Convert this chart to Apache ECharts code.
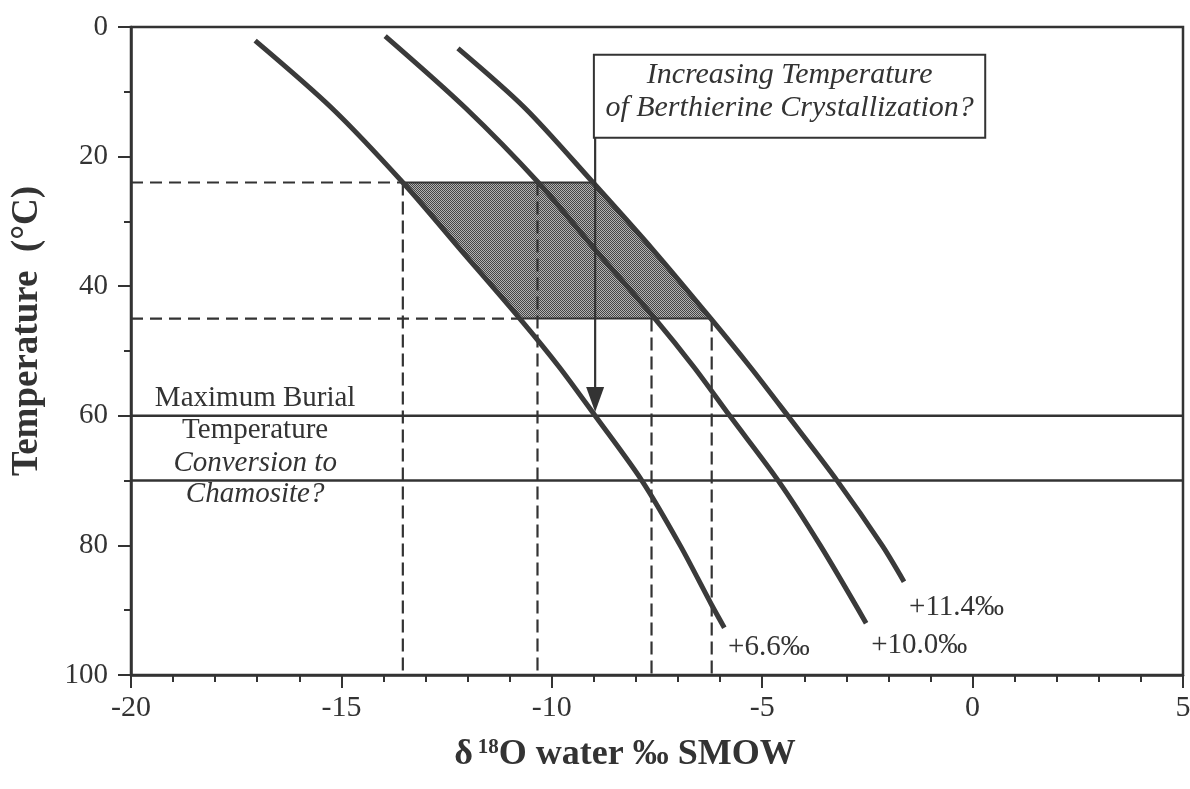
<!DOCTYPE html>
<html>
<head>
<meta charset="utf-8">
<script src="https://cdn.jsdelivr.net/npm/echarts@6/dist/echarts.min.js"></script>
<style>html,body{margin:0;padding:0;background:#fff}#c{width:1190px;height:789px}</style>
</head>
<body>
<div id="c"></div>
<script>
// ---- data (x = δ18O water ‰ SMOW, y = temperature °C) ----
const curve66  = [[-17.05,2.1],[-15.23,12.5],[-13.54,24],[-12.15,34.5],[-10.76,45],[-9.82,52.5],[-8.97,60],[-7.86,70],[-6.95,80],[-6.2,89.2],[-5.9,92.7]];
const curve100 = [[-13.96,1.4],[-12.05,12.5],[-10.32,24],[-8.95,34.5],[-7.55,45],[-6.62,52.5],[-5.77,60],[-4.62,70],[-3.62,80],[-2.53,92.0]];
const curve114 = [[-12.23,3.3],[-10.64,12.5],[-9.02,24],[-7.58,34.5],[-6.22,45],[-5.28,52.5],[-4.39,60],[-3.22,70],[-2.15,80],[-1.63,85.6]];
const curveLabels = ['+6.6‰', '+10.0‰', '+11.4‰'];
const curveLabelAnchors = [[-5.81,95.7],[-2.41,95.4],[-1.51,89.5]];
const shadedZone = [[-13.54,24],[-9.02,24],[-7.58,34.5],[-6.22,45],[-10.76,45],[-12.15,34.5]];
const hDashed = [[[-20,24],[-13.54,24]],[[-20,45],[-10.76,45]]];
const vDashed = [[[-13.54,24],[-13.54,100]],[[-10.34,24],[-10.34,100]],[[-7.63,45],[-7.63,100]],[[-6.2,45],[-6.2,100]]];
const solidLevels = [60, 70];
const arrowPath = [[-8.97,17.1],[-8.97,59.4]];
const boxCorners = [[-9.0,4.3],[0.3,17.1]];
const boxLines = ['Increasing Temperature', 'of Berthierine Crystallization?'];
const boxLineAnchors = [[-4.35,7.4],[-4.35,12.5]];
const burialLines = ['Maximum Burial', 'Temperature', 'Conversion to', 'Chamosite?'];
const burialItalic = [false, false, true, true];
const burialAnchors = [[-17.05,57.3],[-17.05,62.3],[-17.05,67.3],[-17.05,72.1]];
const xRange = [-20, 5], xStep = 5;
const yRange = [0, 100], yStep = 20;

// ---- rendering ----
const FONT = 'Liberation Serif';
const INK = '#333333';

function makePattern() {
  const c = document.createElement('canvas');
  c.width = 2; c.height = 2;
  const g = c.getContext('2d');
  g.fillStyle = '#b2b2b2'; g.fillRect(0, 0, 2, 2);
  g.fillStyle = '#454545'; g.fillRect(0, 0, 1, 1); g.fillRect(1, 1, 1, 1);
  return c;
}
const pattern = { image: makePattern(), repeat: 'repeat' };

function seg(name, pts, lineStyle, z, smooth) {
  return { type: 'line', name, data: pts, symbol: 'none', showSymbol: false, smooth: smooth || false,
           lineStyle, z, silent: true, animation: false };
}

const series = [];
series.push({
  type: 'custom', name: 'zone', data: [[0, 0]], z: 1, silent: true, animation: false,
  renderItem: (p, api) => ({ type: 'polygon', shape: { points: shadedZone.map(d => api.coord(d)) },
                               style: { fill: pattern, stroke: INK, lineWidth: 2 } })
});
solidLevels.forEach(t => series.push(seg('level' + t, [[xRange[0], t], [xRange[1], t]], { color: INK, width: 2.5 }, 2)));
hDashed.forEach((d, i) => series.push(seg('hd' + i, d, { color: INK, width: 2.2, type: [12, 7] }, 3)));
vDashed.forEach((d, i) => series.push(seg('vd' + i, d, { color: INK, width: 2.2, type: [13, 6] }, 3)));
[curve66, curve100, curve114].forEach((c, i) => series.push(seg('curve' + i, c, { color: '#3a3a3a', width: 5, cap: 'butt', join: 'round' }, 5, 0.3)));

series.push({
  type: 'custom', name: 'annotations', data: [[0, 0]], z: 6, silent: true, animation: false,
  renderItem: (p, api) => {
    const ch = [];
    const a = api.coord(boxCorners[0]), b = api.coord(boxCorners[1]);
    ch.push({ type: 'rect', shape: { x: a[0], y: a[1], width: b[0] - a[0], height: b[1] - a[1] },
              style: { fill: '#fff', stroke: INK, lineWidth: 2 } });
    boxLines.forEach((t, i) => {
      const q = api.coord(boxLineAnchors[i]);
      ch.push({ type: 'text', x: q[0], y: q[1], style: { text: t, fontFamily: FONT, fontSize: 30, fontStyle: 'italic',
                fill: INK, align: 'center', verticalAlign: 'middle' } });
    });
    const s = api.coord(arrowPath[0]), e = api.coord(arrowPath[1]);
    ch.push({ type: 'line', shape: { x1: s[0], y1: s[1], x2: e[0], y2: e[1] - 20 }, style: { stroke: INK, lineWidth: 2.2 } });
    ch.push({ type: 'polygon', shape: { points: [[e[0] - 9, e[1] - 25], [e[0] + 9, e[1] - 25], [e[0], e[1]]] },
              style: { fill: INK } });
    burialLines.forEach((t, i) => {
      const q = api.coord(burialAnchors[i]);
      ch.push({ type: 'text', x: q[0], y: q[1], style: { text: t, fontFamily: FONT, fontSize: 29,
                fontStyle: burialItalic[i] ? 'italic' : 'normal', fill: INK, align: 'center', verticalAlign: 'middle' } });
    });
    curveLabels.forEach((t, i) => {
      const q = api.coord(curveLabelAnchors[i]);
      ch.push({ type: 'text', x: q[0], y: q[1], style: { text: t, fontFamily: FONT, fontSize: 29,
                fill: INK, align: 'left', verticalAlign: 'middle' } });
    });
    return { type: 'group', children: ch };
  }
});

const axisCommon = {
  type: 'value',
  axisLine: { show: true, onZero: false, lineStyle: { color: INK, width: 2.5 } },
  axisTick: { show: true, length: 13, lineStyle: { color: INK, width: 2 } },
  minorTick: { show: true, length: 7, lineStyle: { color: INK, width: 2 } },
  splitLine: { show: false },
  minorSplitLine: { show: false }
};

const option = {
  backgroundColor: '#ffffff',
  animation: false,
  grid: { left: 131, right: 7, top: 27, bottom: 114, containLabel: false, outerBoundsMode: 'none',
          show: true, borderColor: INK, borderWidth: 2.5, backgroundColor: 'transparent' },
  xAxis: Object.assign({}, axisCommon, {
    min: xRange[0], max: xRange[1], interval: xStep,
    minorTick: Object.assign({}, axisCommon.minorTick, { splitNumber: 5 }),
    axisLabel: { fontFamily: FONT, fontSize: 30, color: INK, margin: 18 },
    name: '{d|δ}{s|18}{o|O water ‰ SMOW}',
    nameLocation: 'middle', nameGap: 62,
    nameTextStyle: {
      padding: [0, 64, 0, 0],
      rich: {
        d: { fontFamily: FONT, fontSize: 36, fontWeight: 'bold', color: INK, verticalAlign: 'bottom' },
        s: { fontFamily: FONT, fontSize: 21, fontWeight: 'bold', color: INK, verticalAlign: 'top', padding: [0, 0, 10, 5] },
        o: { fontFamily: FONT, fontSize: 36, fontWeight: 'bold', color: INK, verticalAlign: 'bottom' }
      }
    }
  }),
  yAxis: Object.assign({}, axisCommon, {
    inverse: true,
    min: yRange[0], max: yRange[1], interval: yStep,
    minorTick: Object.assign({}, axisCommon.minorTick, { splitNumber: 2 }),
    axisLabel: { fontFamily: FONT, fontSize: 29, color: INK, margin: 23 },
    name: 'Temperature  (°C)',
    nameLocation: 'middle', nameGap: 85,
    nameTextStyle: { fontFamily: FONT, fontSize: 37, fontWeight: 'bold', color: INK, padding: [0, 0, 0, 40] }
  }),
  series
};

const chart = echarts.init(document.getElementById('c'), null, { renderer: 'canvas' });
chart.setOption(option);
</script>
</body>
</html>
